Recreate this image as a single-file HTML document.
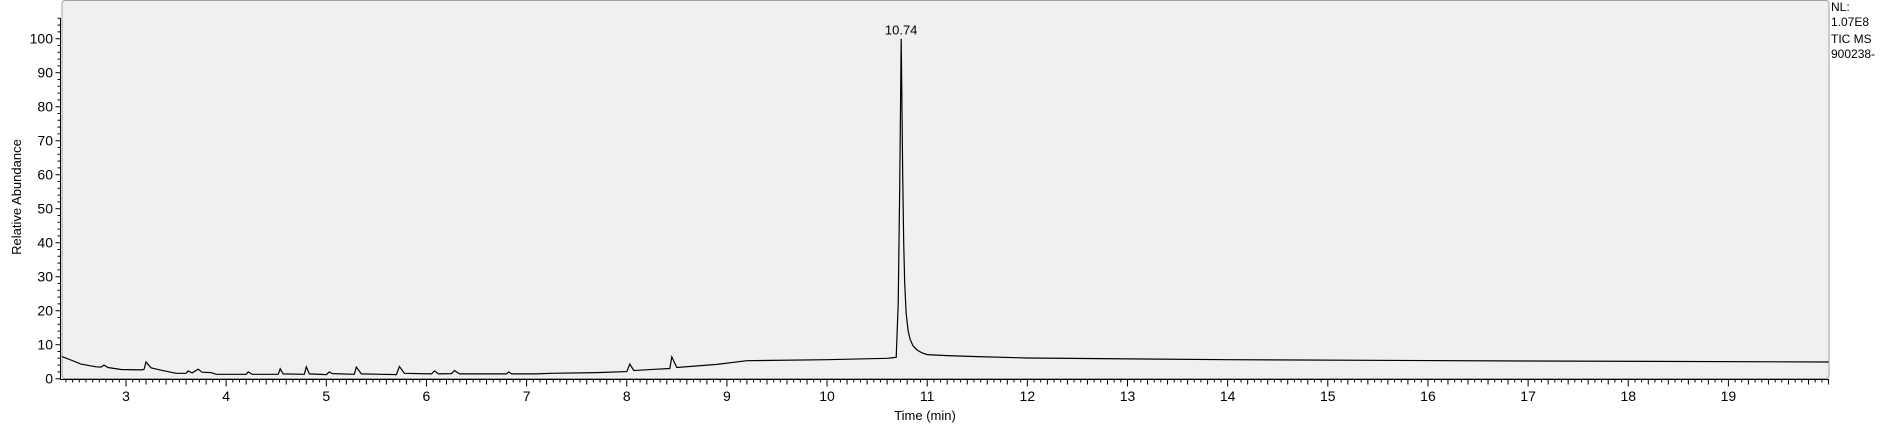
<!DOCTYPE html>
<html><head><meta charset="utf-8"><style>
body{margin:0;background:#fff;width:1881px;height:429px;overflow:hidden;font-family:"Liberation Sans",sans-serif}
svg text{font-family:"Liberation Sans",sans-serif;fill:#000}
</style></head><body>
<svg id="chart" width="1881" height="429" viewBox="0 0 1881 429" xmlns="http://www.w3.org/2000/svg">
<rect x="62" y="0.5" width="1767" height="378" rx="3" fill="#f0f0f0" stroke="#a0a0a0"/>
<g id="axes"></g>
<path id="trace" fill="none" stroke="#000" stroke-width="1.2"/>
<text id="peaklbl" font-size="13" text-anchor="middle">10.74</text>
<text font-size="13" text-anchor="middle" transform="translate(21,197) rotate(-90)">Relative Abundance</text>
<text x="925" y="420" font-size="13" text-anchor="middle">Time (min)</text>
<g font-size="12">
<text x="1831" y="11">NL:</text>
<text x="1831" y="26">1.07E8</text>
<text x="1831" y="43">TIC  MS</text>
<text x="1831" y="58">900238-</text>
</g>
</svg>
<script>
const times=[2.36,2.45,2.55,2.7,2.75,2.78,2.82,2.95,3.15,3.18,3.2,3.25,3.35,3.5,3.6,3.62,3.66,3.72,3.76,3.85,3.9,4.2,4.22,4.26,4.52,4.54,4.57,4.78,4.8,4.83,5.0,5.03,5.06,5.28,5.3,5.35,5.7,5.73,5.78,6.05,6.08,6.12,6.25,6.28,6.33,6.8,6.82,6.85,7.1,7.24,7.7,8.0,8.03,8.07,8.3,8.43,8.45,8.5,8.9,9.2,10.0,10.6,10.69,10.71,10.725,10.74,10.755,10.765,10.775,10.79,10.81,10.83,10.86,10.9,10.95,11.0,11.2,11.5,12,14,17,20];
const abundance=[6.5,5.5,4.3,3.5,3.4,4.0,3.3,2.7,2.6,2.7,4.9,3.2,2.5,1.6,1.6,2.3,1.7,2.8,1.9,1.8,1.3,1.3,2.0,1.3,1.3,2.9,1.4,1.3,3.5,1.4,1.2,2.0,1.5,1.3,3.4,1.4,1.2,3.6,1.6,1.4,2.3,1.4,1.5,2.4,1.4,1.4,2.0,1.4,1.4,1.6,1.8,2.1,4.3,2.4,2.8,3.0,6.4,3.3,4.2,5.3,5.6,6.0,6.3,22,56,100,60,40,28,19,14,11.5,9.6,8.4,7.6,7.1,6.8,6.5,6.1,5.6,5.2,4.9];
const xTicks=[3,4,5,6,7,8,9,10,11,12,13,14,15,16,17,18,19];
const yTicks=[0,10,20,30,40,50,60,70,80,90,100];
const peakTime=10.74, peakValue=100;
const X=t=>126+(t-3)*100.15;
const Y=v=>378.7-v*3.4;
const NS='http://www.w3.org/2000/svg';
const ax=document.getElementById('axes');
function mk(tag,attrs){const e=document.createElementNS(NS,tag);for(const k in attrs)e.setAttribute(k,attrs[k]);return e;}
let d='';
d+=`M60.5 ${Y(106)}V379.5H1829`;
for(let v=0;v<=106;v+=2){const L=v%10===0?5:3;d+=`M60.5 ${Y(v)}h${-L}`;}
for(let i=0;;i++){const t=2.4+i/15;if(t>20)break;const x=X(t);if(x<62)continue;d+=`M${x} 379.5v3`;}
for(let t=3;t<=20;t+=0.2){d+=`M${X(t)} 379.5v5`;}
for(const t of xTicks){d+=`M${X(t)} 379.5v7`;}
const axp=mk('path',{d:d,stroke:'#000',fill:'none','stroke-width':'1'});


ax.appendChild(axp);
for(const v of yTicks){const tx=mk('text',{x:53,y:Y(v)+5,'font-size':14,'text-anchor':'end'});tx.textContent=v;


ax.appendChild(tx);}
for(const t of xTicks){const tx=mk('text',{x:X(t),y:401,'font-size':14,'text-anchor':'middle'});tx.textContent=t;


ax.appendChild(tx);}
document.getElementById('trace').setAttribute('d',times.map((t,i)=>(i?'L':'M')+X(t).toFixed(1)+' '+Y(abundance[i]).toFixed(1)).join(''));
const pl=document.getElementById('peaklbl');pl.setAttribute('x',X(peakTime));pl.setAttribute('y',Y(peakValue)-4);
</script>
</body></html>
